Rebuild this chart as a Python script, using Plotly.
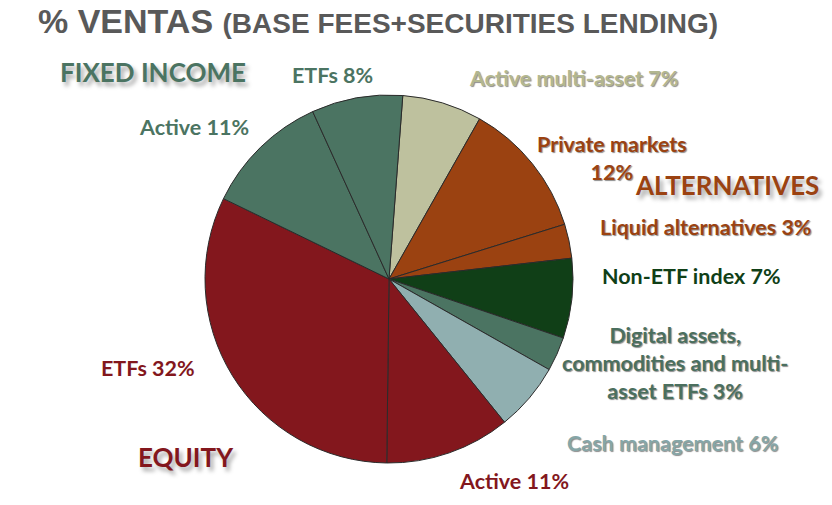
import plotly.graph_objects as go

# ---- data ----
slice_labels = ["Active multi-asset", "Private markets", "Liquid alternatives",
                "Non-ETF index", "Digital assets, commodities and multi-asset ETFs",
                "Cash management", "Active", "ETFs", "Active", "ETFs"]
groups = ["Multi-asset", "Alternatives", "Alternatives", "Index", "Digital",
          "Cash", "Equity", "Equity", "Fixed income", "Fixed income"]
values = [7, 12, 3, 7, 3, 6, 11, 32, 11, 8]
colors = ["#BEC19E", "#9B4211", "#9B4211", "#103F17", "#4B7462",
          "#90AFB0", "#83171D", "#83171D", "#4B7462", "#4B7462"]
text_colors = ["#B3B78F", "#9B4211", "#9B4211", "#103F17", "#4B6F5E",
               "#86A6A7", "#83171D", "#83171D", "#4B7462", "#4B7462"]
category_names = ["FIXED INCOME", "ALTERNATIVES", "EQUITY"]
category_colors = ["#4B7462", "#9B4211", "#83171D"]
title_main = "% VENTAS"
title_sub = "(BASE FEES+SECURITIES LENDING)"

W, H = 832, 505
cx, cy, r = 389, 279, 184

fig = go.Figure(go.Pie(
    values=values,
    labels=[f"{g}: {l}" for g, l in zip(groups, slice_labels)],
    sort=False,
    direction="clockwise",
    rotation=4.3,
    marker=dict(colors=colors, line=dict(color="#2b2b2b", width=1)),
    textinfo="none",
    hoverinfo="label+percent",
    domain=dict(x=[(cx - r) / W, (cx + r) / W],
                y=[1 - (cy + r) / H, 1 - (cy - r) / H]),
    showlegend=False,
))

def P(x, y):
    return x / W, 1 - y / H

lab_font = "Lato"
small_shadow = "1px 1px 1px rgba(0,0,0,0.45)"
big_shadow = "3px 4px 4px rgba(0,0,0,0.35)"

# label text built from data
lbl = [f"{l} {v}%" for l, v in zip(slice_labels, values)]
lbl[1] = f"{slice_labels[1]}<br>{values[1]}%"
lbl[4] = f"Digital assets,<br>commodities and multi-<br>asset ETFs {values[4]}%"

label_pos = [(573, 78, "center", small_shadow),
             (612, 158, "center", small_shadow),
             (706, 227, "center", small_shadow),
             (691, 276, "center", "none"),
             (675, 363, "center", small_shadow),
             (672, 443, "center", small_shadow),
             (514, 481, "center", "none"),
             (148, 368, "center", "none"),
             (194, 127, "center", "none"),
             (332, 75, "center", "none")]

annotations = []
for i, (x, y, al, sh) in enumerate(label_pos):
    xx, yy = P(x, y)
    annotations.append(dict(
        x=xx, y=yy, xref="paper", yref="paper", text=f"<b>{lbl[i]}</b>",
        showarrow=False, xanchor="center", yanchor="middle", align=al,
        font=dict(family=lab_font, size=21.5, color=text_colors[i], shadow=sh)))

cat_pos = [(153, 72), (727, 185), (186, 457)]
for name, col, (x, y) in zip(category_names, category_colors, cat_pos):
    xx, yy = P(x, y)
    annotations.append(dict(
        x=xx, y=yy, xref="paper", yref="paper", text=f"<b>{name}</b>",
        showarrow=False, xanchor="center", yanchor="middle",
        font=dict(family=lab_font, size=26, color=col, shadow=big_shadow)))

tx, ty = P(36, 21)
annotations.append(dict(
    x=tx, y=ty, xref="paper", yref="paper",
    text=f"<b>{title_main}</b> <b><span style='font-size:28px'>{title_sub}</span></b>",
    showarrow=False, xanchor="left", yanchor="middle",
    font=dict(family="Liberation Sans, Arial, sans-serif", size=34, color="#595959")))

fig.update_layout(
    width=W, height=H,
    margin=dict(l=0, r=0, t=0, b=0),
    paper_bgcolor="white", plot_bgcolor="white",
    annotations=annotations,
)

fig.write_html("out.html", config={"displayModeBar": False},
               post_script="document.body.style.margin='0';")
